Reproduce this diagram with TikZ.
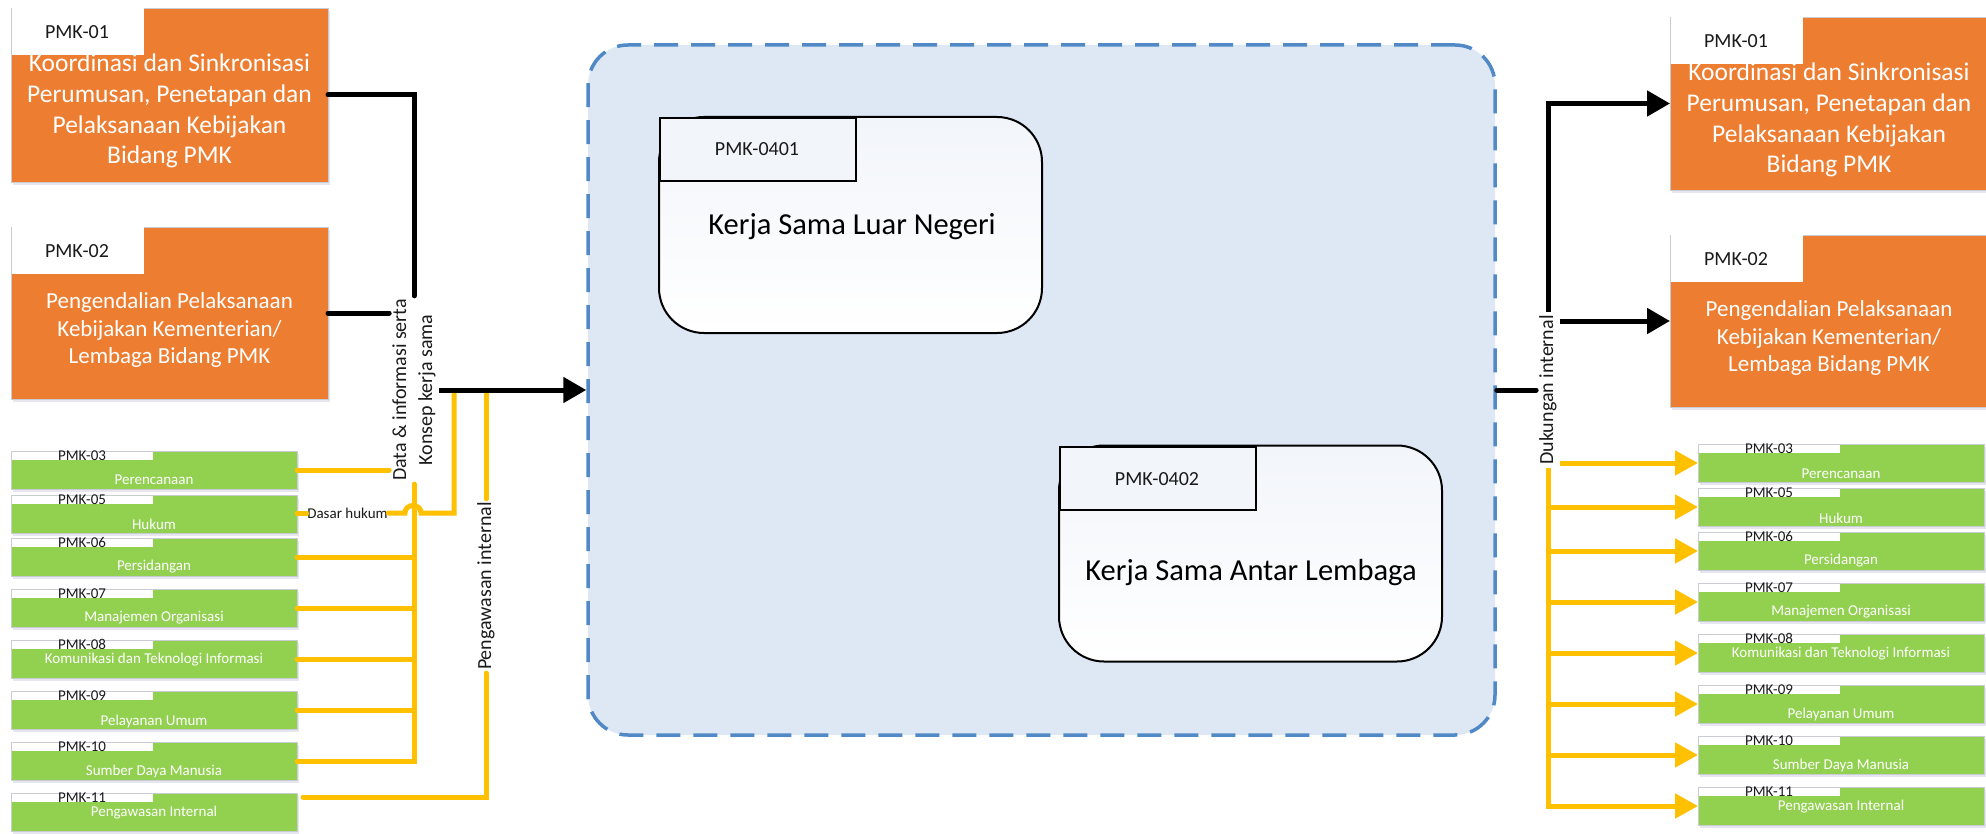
\documentclass[tikz,border=0pt]{standalone}
\usepackage{fontspec}
\setmainfont{Carlito}
\usetikzlibrary{arrows.meta,shadows,calc}
\definecolor{orng}{HTML}{ED7D31}
\definecolor{grn}{HTML}{92D050}
\definecolor{ylw}{HTML}{FFC000}
\definecolor{contfill}{HTML}{DEE8F4}
\definecolor{contdraw}{HTML}{5089C6}
\definecolor{boxline}{HTML}{C9CDD3}
\definecolor{txt}{HTML}{1A1A1A}
\definecolor{ptint}{HTML}{F2F5FA}
\newcommand\fs[2]{\fontsize{#1}{#2}\selectfont}
\tikzset{
  orangebox/.style={rectangle, anchor=north west, fill=orng, draw=boxline, line width=0.8pt, inner sep=0pt, outer sep=0pt,
    drop shadow={shadow xshift=1.5pt, shadow yshift=-3pt, fill=blue!30!gray, opacity=0.15}},
  greenbox/.style={orangebox, fill=grn, minimum width=286pt, minimum height=38pt},
  wtab/.style={rectangle, anchor=north west, fill=white, inner sep=0pt, outer sep=0pt},
  codelbl/.style={font=\fs{20}{24}, text=txt, inner sep=0pt},
  gcode/.style={font=\fs{15}{18}, text=txt, inner sep=0pt},
  otext/.style={text=white, align=center, inner sep=0pt},
  gtext/.style={font=\fs{15}{18}, text=white, inner sep=0pt},
  flowlbl/.style={rotate=90, font=\fs{20}{26}, text=txt, align=center, inner sep=3pt},
  contbox/.style={rectangle, rounded corners=40pt, draw=contdraw, line width=3.5pt, dash pattern=on 24pt off 13pt,
    fill=contfill, inner sep=0pt, minimum width=907pt, minimum height=690pt},
  procbox/.style={rectangle, rounded corners=45pt, draw=black, line width=2pt, top color=ptint, bottom color=white,
    inner sep=0pt, minimum width=383pt, minimum height=216pt},
  ptab/.style={rectangle, anchor=north west, draw=black, line width=2pt, fill=ptint, inner sep=0pt,
    minimum width=196pt, minimum height=63pt},
  ptabtxt/.style={font=\fs{20}{24}, text=txt, inner sep=0pt},
  pmain/.style={font=\fs{30.5}{36}, text=black, inner sep=0pt},
  blk/.style={draw=black, line width=5pt, line cap=round},
  blkarrow/.style={draw=black, line width=5pt, -{Triangle[length=23pt,width=25pt]}},
  ylwl/.style={draw=ylw, line width=5pt, line cap=round},
  ylwarrow/.style={draw=ylw, line width=5pt, -{Triangle[length=23pt,width=24pt]}},
}
\newcommand\obox[9]{%
  \node[orangebox, minimum width=#4pt, minimum height=#5pt] (#1) at (#2,#3) {};
  \node[wtab, minimum width=132.5pt, minimum height=46.5pt] (#1-tab) at (#2+0.5,#3+0.5) {};
  \node[codelbl] (#1-code) at (#2+66,#3+24) {#6};
  \node[otext, font=\fs{#7}{#8}] (#1-txt) at (#2+#4/2,#3+103) {#9};
}
\newcommand\gbox[6]{%
  \node[greenbox] (#1) at (#2,#3) {};
  \node[wtab, minimum width=141pt, minimum height=8.5pt] (#1-tab) at (#2+0.5,#3+0.5) {};
  \node[gcode] (#1-code) at (#2+71,#3+4.5) {#4};
  \node[gtext] (#1-txt) at (#2+143,#3+#6) {#5};
}
\begin{document}
\begin{tikzpicture}[x=1pt,y=-1pt]
\useasboundingbox (0,0) rectangle (1986,834);
\fill[white] (0,0) rectangle (1986,834);

% container
\node[contbox] (cont) at (1041.5,390) {};

% process boxes
\node[procbox] (k1) at (850.5,225) {};
\node[ptab] (k1-tab) at (659,117) {};
\node[ptabtxt] (k1-code) at (757,149) {PMK-0401};
\node[pmain] (k1-txt) at (852,227) {Kerja Sama Luar Negeri};

\node[procbox] (k2) at (1250.5,553.5) {};
\node[ptab] (k2-tab) at (1059,446) {};
\node[ptabtxt] (k2-code) at (1157,479) {PMK-0402};
\node[pmain] (k2-txt) at (1251,573) {Kerja Sama Antar Lembaga};

% left orange boxes
\obox{L1}{11}{8}{317}{174}{PMK-01}{25.5}{30.7}{Koordinasi dan Sinkronisasi\\Perumusan, Penetapan dan\\Pelaksanaan Kebijakan\\Bidang PMK}
\obox{L2}{11}{227}{317}{172}{PMK-02}{23}{27.5}{Pengendalian Pelaksanaan\\Kebijakan Kementerian/\\Lembaga Bidang PMK}

% right orange boxes
\obox{R1}{1670}{17}{318}{173}{PMK-01}{25.5}{30.7}{Koordinasi dan Sinkronisasi\\Perumusan, Penetapan dan\\Pelaksanaan Kebijakan\\Bidang PMK}
\obox{R2}{1670}{235}{318}{172}{PMK-02}{23}{27.5}{Pengendalian Pelaksanaan\\Kebijakan Kementerian/\\Lembaga Bidang PMK}

% left green boxes
\gbox{G3}{11}{451}{PMK-03}{Perencanaan}{29}
\gbox{G5}{11}{495}{PMK-05}{Hukum}{29}
\gbox{G6}{11}{538}{PMK-06}{Persidangan}{29}
\gbox{G7}{11}{589}{PMK-07}{Manajemen Organisasi}{29}
\gbox{G8}{11}{640}{PMK-08}{Komunikasi dan Teknologi Informasi}{20}
\gbox{G9}{11}{691}{PMK-09}{Pelayanan Umum}{30}
\gbox{G10}{11}{742}{PMK-10}{Sumber Daya Manusia}{29}
\gbox{G11}{11}{793}{PMK-11}{Pengawasan Internal}{20}

% right green boxes
\gbox{H3}{1698}{444}{PMK-03}{Perencanaan}{30}
\gbox{H5}{1698}{488}{PMK-05}{Hukum}{30}
\gbox{H6}{1698}{532}{PMK-06}{Persidangan}{29}
\gbox{H7}{1698}{583}{PMK-07}{Manajemen Organisasi}{29}
\gbox{H8}{1698}{634}{PMK-08}{Komunikasi dan Teknologi Informasi}{20}
\gbox{H9}{1698}{685}{PMK-09}{Pelayanan Umum}{29}
\gbox{H10}{1698}{736}{PMK-10}{Sumber Daya Manusia}{29}
\gbox{H11}{1698}{787}{PMK-11}{Pengawasan Internal}{20}

% flow labels
\node[flowlbl] (lblData) at (414,390) {Data \& informasi serta\\Konsep kerja sama};
\node[flowlbl] (lblPeng) at (486,586) {Pengawasan internal};
\node[flowlbl] (lblDuk) at (1548,390) {Dukungan internal};
\node[font=\fs{15}{18}, text=txt, inner sep=0.5pt] (lblDasar) at (347.5,513) {Dasar hukum};

% junction coordinates
\coordinate (j1) at (454,392);
\coordinate (j2) at (486,392);
\coordinate (hopR) at (421,513);
\coordinate (hopL) at (405,513);

% left yellow connectors
\draw[ylwl] (G3.east) -- (G3.east -| lblData.north);
\draw[ylwl] (j1) -- (j1 |- lblDasar.east) -- (hopR) .. controls (421,503) and (405,503) .. (hopL) -- (lblDasar.east);
\draw[ylwl] (lblDasar.west) -- (lblDasar.west -| G5.east);
\draw[ylwl] (lblData.west) |- (G10.east);
\foreach \g in {G6,G7,G8,G9} \draw[ylwl] (\g.east) -- (\g.east -| lblData.west);
\draw[ylwl] (j2) -- (lblPeng.east);
\draw[ylwl] (lblPeng.west) |- ([xshift=6pt,yshift=15pt]G11.east);

% left black connectors
\draw[blk] (L1.east) -| (lblData.east);
\draw[blk] (L2.east) -- (L2.east -| lblData.north);
\draw[blkarrow] (lblData.south) -- (cont.west);

% right connectors
\draw[blk] (cont.east) -- (lblDuk.north);
\draw[blkarrow] (lblDuk.east) |- (R1.west);
\draw[blkarrow] (R2.west -| lblDuk.south) -- (R2.west);
\draw[ylwarrow] (H3.west -| lblDuk.south) -- (H3.west);
\draw[ylwarrow] (lblDuk.west) |- (H11.west);
\foreach \h in {H5,H6,H7,H8,H9,H10} \draw[ylwarrow] (\h.west -| lblDuk.west) -- (\h.west);
\end{tikzpicture}
\end{document}
